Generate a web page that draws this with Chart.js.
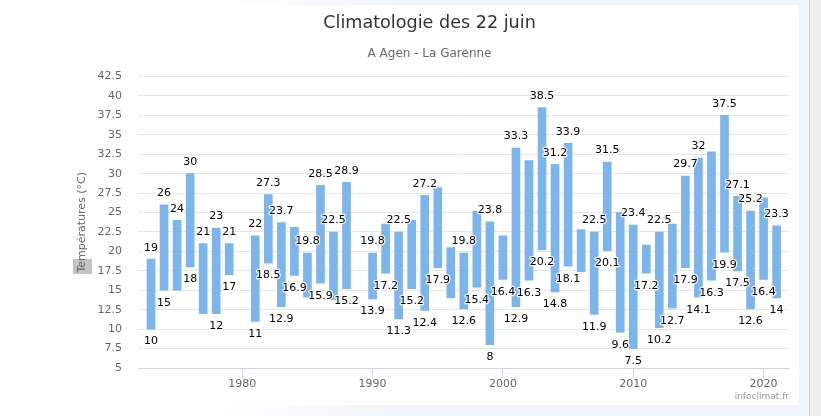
<!DOCTYPE html>
<html>
<head>
<meta charset="utf-8">
<title>Climatologie des 22 juin</title>
<script src="https://cdn.jsdelivr.net/npm/chart.js@4"></script>
<style>
    html, body { margin: 0; padding: 0; width: 821px; height: 416px; overflow: hidden; background: #fff; }
    #bg-top, #bg-bottom { position: absolute; left: 0; width: 809px; background: linear-gradient(to right, #fff 200px, #f1f6fe 400px); }
    #bg-top { top: 0; height: 5px; }
    #bg-bottom { top: 405px; height: 11px; }
    #bg-right { position: absolute; left: 799px; top: 0; width: 10px; height: 416px; background: #f1f6fe; }
    #bg-edge { position: absolute; left: 809px; top: 0; width: 12px; height: 416px; background: #eeeeee; border-left: 1px solid #d0d0d0; box-sizing: border-box; }
    #wrap { position: absolute; left: 0; top: 0; width: 821px; height: 416px; }
</style>
</head>
<body>
<div id="bg-top"></div>
<div id="bg-bottom"></div>
<div id="bg-right"></div>
<div id="bg-edge"></div>
<div id="wrap"><canvas id="chart" width="821" height="416"></canvas></div>
<script>
const years = [1973, 1974, 1975, 1976, 1977, 1978, 1979, 1981, 1982, 1983, 1984, 1985, 1986, 1987, 1988,
    1990, 1991, 1992, 1993, 1994, 1995, 1996, 1997, 1998, 1999, 2000, 2001, 2002, 2003, 2004, 2005,
    2006, 2007, 2008, 2009, 2010, 2011, 2012, 2013, 2014, 2015, 2016, 2017, 2018, 2019, 2020, 2021];
const lows = [10, 15, 15, 18, 12, 12, 17, 11, 18.5, 12.9, 16.9, 14.1, 15.9, 13.8, 15.2,
    13.9, 17.2, 11.3, 15.2, 12.4, 17.9, 14, 12.6, 15.4, 8, 16.4, 12.9, 16.3, 20.2, 14.8, 18.1,
    17.4, 11.9, 20.1, 9.6, 7.5, 17.2, 10.2, 12.7, 17.9, 14.1, 16.3, 19.9, 17.5, 12.6, 16.4, 14];
const highs = [19, 26, 24, 30, 21, 23, 21, 22, 27.3, 23.7, 23.1, 19.8, 28.5, 22.5, 28.9,
    19.8, 23.5, 22.5, 24, 27.2, 28.2, 20.5, 19.8, 25.2, 23.8, 22, 33.3, 31.7, 38.5, 31.2, 33.9,
    22.8, 22.5, 31.5, 25, 23.4, 20.8, 22.5, 23.5, 29.7, 32, 32.8, 37.5, 27.1, 25.2, 26.9, 23.3];
// labels dropped in the original because they overlapped
const hiddenHighLabels = [1984, 1991, 1993, 1995, 1996, 1998, 2000, 2002, 2006, 2009, 2011, 2013, 2016, 2020];
const hiddenLowLabels = [1975, 1977, 1985, 1987, 1996, 2006];
const yTicks = [5, 7.5, 10, 12.5, 15, 17.5, 20, 22.5, 25, 27.5, 30, 32.5, 35, 37.5, 40, 42.5];
const xTicks = [1980, 1990, 2000, 2010, 2020];

const fontFamily = '"DejaVu Sans", sans-serif';

const valueLabels = {
    id: 'valueLabels',
    afterDatasetsDraw(chart) {
        const ctx = chart.ctx;
        const xs = chart.scales.x;
        const ys = chart.scales.y;
        ctx.save();
        ctx.font = '11px ' + fontFamily;
        ctx.textAlign = 'center';
        ctx.textBaseline = 'middle';
        ctx.lineJoin = 'round';
        ctx.lineWidth = 2.5;
        ctx.strokeStyle = 'rgba(255,255,255,0.9)';
        ctx.fillStyle = '#000';
        const put = (text, x, y) => {
            ctx.strokeText(text, x, y);
            ctx.fillText(text, x, y);
        };
        years.forEach((year, i) => {
            const x = xs.getPixelForValue(year);
            if (!hiddenHighLabels.includes(year)) {
                put(String(highs[i]), x, ys.getPixelForValue(highs[i]) - 11.5);
            }
            if (!hiddenLowLabels.includes(year)) {
                put(String(lows[i]), x, ys.getPixelForValue(lows[i]) + 12.5);
            }
        });
        ctx.restore();
    }
};

const extras = {
    id: 'extras',
    beforeDraw(chart) {
        // selection highlight behind the start of the axis title
        chart.ctx.save();
        chart.ctx.fillStyle = '#c4c4c4';
        chart.ctx.fillRect(73, 259, 19, 15);
        chart.ctx.restore();
    },
    afterDraw(chart) {
        const ctx = chart.ctx;
        ctx.save();
        ctx.font = '9px ' + fontFamily;
        ctx.fillStyle = '#999';
        ctx.textAlign = 'right';
        ctx.textBaseline = 'middle';
        ctx.fillText('infoclimat.fr', 789, 396.5);
        ctx.restore();
    }
};

new Chart(document.getElementById('chart'), {
    type: 'bar',
    data: {
        datasets: [{
            data: years.map((year, i) => ({ x: year, y: [lows[i], highs[i]] })),
            backgroundColor: '#7cb5ec',
            borderWidth: 0,
            barThickness: 8
        }]
    },
    options: {
        responsive: false,
        animation: false,
        layout: { padding: { left: 70, right: 32, top: 0, bottom: 0 } },
        plugins: {
            legend: { display: false },
            tooltip: { enabled: false },
            title: {
                display: true,
                text: 'Climatologie des 22 juin',
                color: '#333333',
                font: { family: fontFamily, size: 17.6, weight: 'normal' },
                padding: { top: 13, bottom: 0 }
            },
            subtitle: {
                display: true,
                text: 'A Agen - La Garenne',
                color: '#666666',
                font: { family: fontFamily, size: 12, weight: 'normal' },
                padding: { top: 13, bottom: 15 }
            }
        },
        scales: {
            x: {
                type: 'linear',
                offset: false,
                min: 1972,
                max: 2021.95,
                afterBuildTicks(axis) {
                    axis.ticks = xTicks.map(v => ({ value: v }));
                },
                afterFit(axis) {
                    axis.height = 48;
                },
                grid: { display: true, drawOnChartArea: false, offset: false, drawTicks: true, tickLength: 10, tickColor: '#ccd6eb' },
                border: { color: '#ccd6eb' },
                ticks: {
                    color: '#666666',
                    font: { family: fontFamily, size: 11 },
                    padding: 0,
                    maxRotation: 0,
                    callback: v => String(v)
                }
            },
            y: {
                min: 5,
                max: 42.5,
                afterBuildTicks(axis) {
                    axis.ticks = yTicks.map(v => ({ value: v }));
                },
                afterFit(axis) {
                    axis.width = 68;
                },
                grid: { color: '#e6e6e6', drawTicks: false },
                border: { display: false },
                ticks: {
                    color: '#666666',
                    font: { family: fontFamily, size: 11 },
                    padding: 16,
                    callback: v => String(v)
                },
                title: {
                    display: true,
                    text: 'Températures (°C)',
                    color: '#666666',
                    font: { family: fontFamily, size: 11 },
                    padding: { top: 6, bottom: 0 }
                }
            }
        }
    },
    plugins: [extras, valueLabels]
});
</script>
</body>
</html>
